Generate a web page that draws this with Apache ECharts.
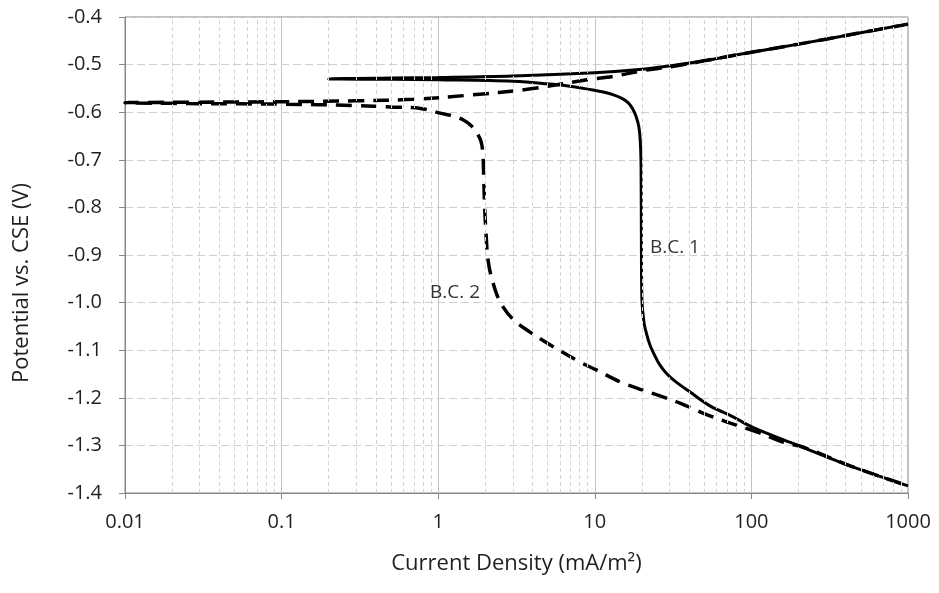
<!DOCTYPE html>
<html>
<head>
<meta charset="utf-8">
<script src="https://cdn.jsdelivr.net/npm/echarts@6/dist/echarts.min.js"></script>
<style>
  html, body { margin: 0; padding: 0; background: #fff; }
  #chart { width: 939px; height: 593px; }
</style>
</head>
<body>
<div id="chart"></div>
<script>
// x tick labels (log axis, decades)
const xTickLabels = ['0.01', '0.1', '1', '10', '100', '1000'];

// B.C. 1 - solid curve [current density, potential], anodic branch then cathodic branch
const bc1 = [
  [1000, -0.415], [500, -0.433], [200, -0.457], [100, -0.474], [50, -0.492],
  [30, -0.503], [20, -0.510], [10, -0.517], [3, -0.524], [1, -0.527],
  [0.5, -0.528], [0.2, -0.530],
  [0.5, -0.531], [1, -0.532], [3, -0.535], [5.2, -0.541], [7.5, -0.547],
  [9.5, -0.553], [11.5, -0.558], [13.3, -0.564], [14.9, -0.571], [16.3, -0.580],
  [17.4, -0.592], [18.3, -0.608], [19.1, -0.630], [19.55, -0.665], [19.75, -0.72],
  [19.85, -0.89], [20.0, -0.995], [20.6, -1.041], [21.5, -1.068], [22.5, -1.089],
  [24.2, -1.112], [26, -1.131], [28.9, -1.15], [32.5, -1.165], [40.6, -1.188],
  [54.4, -1.217], [76.4, -1.240], [102, -1.262], [195, -1.299], [427, -1.343],
  [1000, -1.385]
];

// B.C. 2 - dashed curve
const bc2 = [
  [1000, -0.415], [500, -0.433], [200, -0.457], [100, -0.474], [50, -0.492],
  [30, -0.505], [20, -0.513], [13, -0.525], [8.9, -0.532], [3.7, -0.552],
  [1.6, -0.564], [0.69, -0.573], [0.3, -0.576], [0.1, -0.578], [0.03, -0.579],
  [0.01, -0.580],
  [0.03, -0.582], [0.1, -0.583], [0.3, -0.586], [0.5, -0.589], [0.77, -0.592],
  [1.03, -0.602], [1.25, -0.608], [1.44, -0.616], [1.62, -0.628], [1.77, -0.644],
  [1.88, -0.662], [1.93, -0.69], [1.95, -0.73], [1.98, -0.8], [2.02, -0.854],
  [2.08, -0.91], [2.21, -0.952], [2.48, -0.998], [3.0, -1.035], [3.86, -1.062],
  [5.2, -1.089], [8.06, -1.125], [10.3, -1.142], [15.1, -1.169], [25, -1.194],
  [35, -1.211], [49, -1.232], [70, -1.251], [109, -1.272], [159, -1.293],
  [220, -1.305], [427, -1.343], [1000, -1.385]
];

// curve labels
const curveLabels = [[32.5, -0.885, 'B.C. 1'], [1.28, -0.98, 'B.C. 2']];

// minor vertical grid lines (2..9 in each decade)
const minorLines = [];
[0.01, 0.1, 1, 10, 100].forEach(d => {
  for (let k = 2; k <= 9; k++) minorLines.push({ xAxis: +(d * k).toPrecision(3) });
});

const FONT = 'Open Sans';
const TXT = '#1f1f1f';

let myChart = echarts.init(document.getElementById('chart'));
myChart.setOption({
  animation: false,
  grid: {
    left: 125, right: 31, top: 17, bottom: 100,
    show: true, borderColor: '#868686', borderWidth: 1
  },
  graphic: [{
    type: 'text',
    x: 22,
    y: 283,
    rotation: Math.PI / 2,
    style: {
      text: 'Potential vs. CSE (V)',
      font: '22px "Open Sans"',
      fill: TXT,
      align: 'center',
      verticalAlign: 'middle'
    }
  }],
  xAxis: {
    type: 'log',
    logBase: 10,
    min: 0.01,
    max: 1000,
    name: 'Current Density (mA/m²)',
    nameLocation: 'middle',
    nameGap: 60,
    nameTextStyle: { fontFamily: FONT, fontSize: 22, color: TXT },
    axisLine: { lineStyle: { color: '#868686' } },
    axisTick: { show: true, length: 6, lineStyle: { color: '#868686' } },
    axisLabel: {
      fontFamily: FONT, fontSize: 20, color: TXT, margin: 19,
      formatter: (v, i) => xTickLabels[i]
    },
    splitLine: { show: true, lineStyle: { color: '#c4c4c4', width: 1 } }
  },
  yAxis: {
    type: 'value',
    min: -1.4,
    max: -0.4,
    interval: 0.1,
    axisLine: { show: true, lineStyle: { color: '#868686' } },
    axisTick: { show: true, length: 6, lineStyle: { color: '#868686' } },
    axisLabel: {
      fontFamily: FONT, fontSize: 20, color: TXT, margin: 23,
      formatter: v => v.toFixed(1)
    },
    splitLine: { show: true, lineStyle: { color: '#cfcfcf', type: [8, 4] } }
  },
  series: [
    {
      type: 'line',
      data: [],
      z: 1,
      silent: true,
      markLine: {
        silent: true,
        symbol: 'none',
        label: { show: false },
        lineStyle: { color: '#d4d4d4', type: [4, 3], width: 1 },
        data: minorLines
      }
    },
    {
      name: 'B.C. 2',
      type: 'line',
      data: bc2,
      showSymbol: false,
      smooth: 0.35,
      z: 3,
      lineStyle: { color: '#000', width: 3.5, type: [16, 9] }
    },
    {
      name: 'B.C. 1',
      type: 'line',
      data: bc1,
      showSymbol: false,
      smooth: 0.35,
      z: 4,
      lineStyle: { color: '#000', width: 3 }
    },
    {
      type: 'scatter',
      data: curveLabels,
      symbolSize: 0,
      z: 5,
      label: {
        show: true,
        position: 'inside',
        formatter: p => p.value[2],
        fontFamily: FONT, fontSize: 19, color: '#000'
      }
    }
  ]
});
</script>
</body>
</html>
